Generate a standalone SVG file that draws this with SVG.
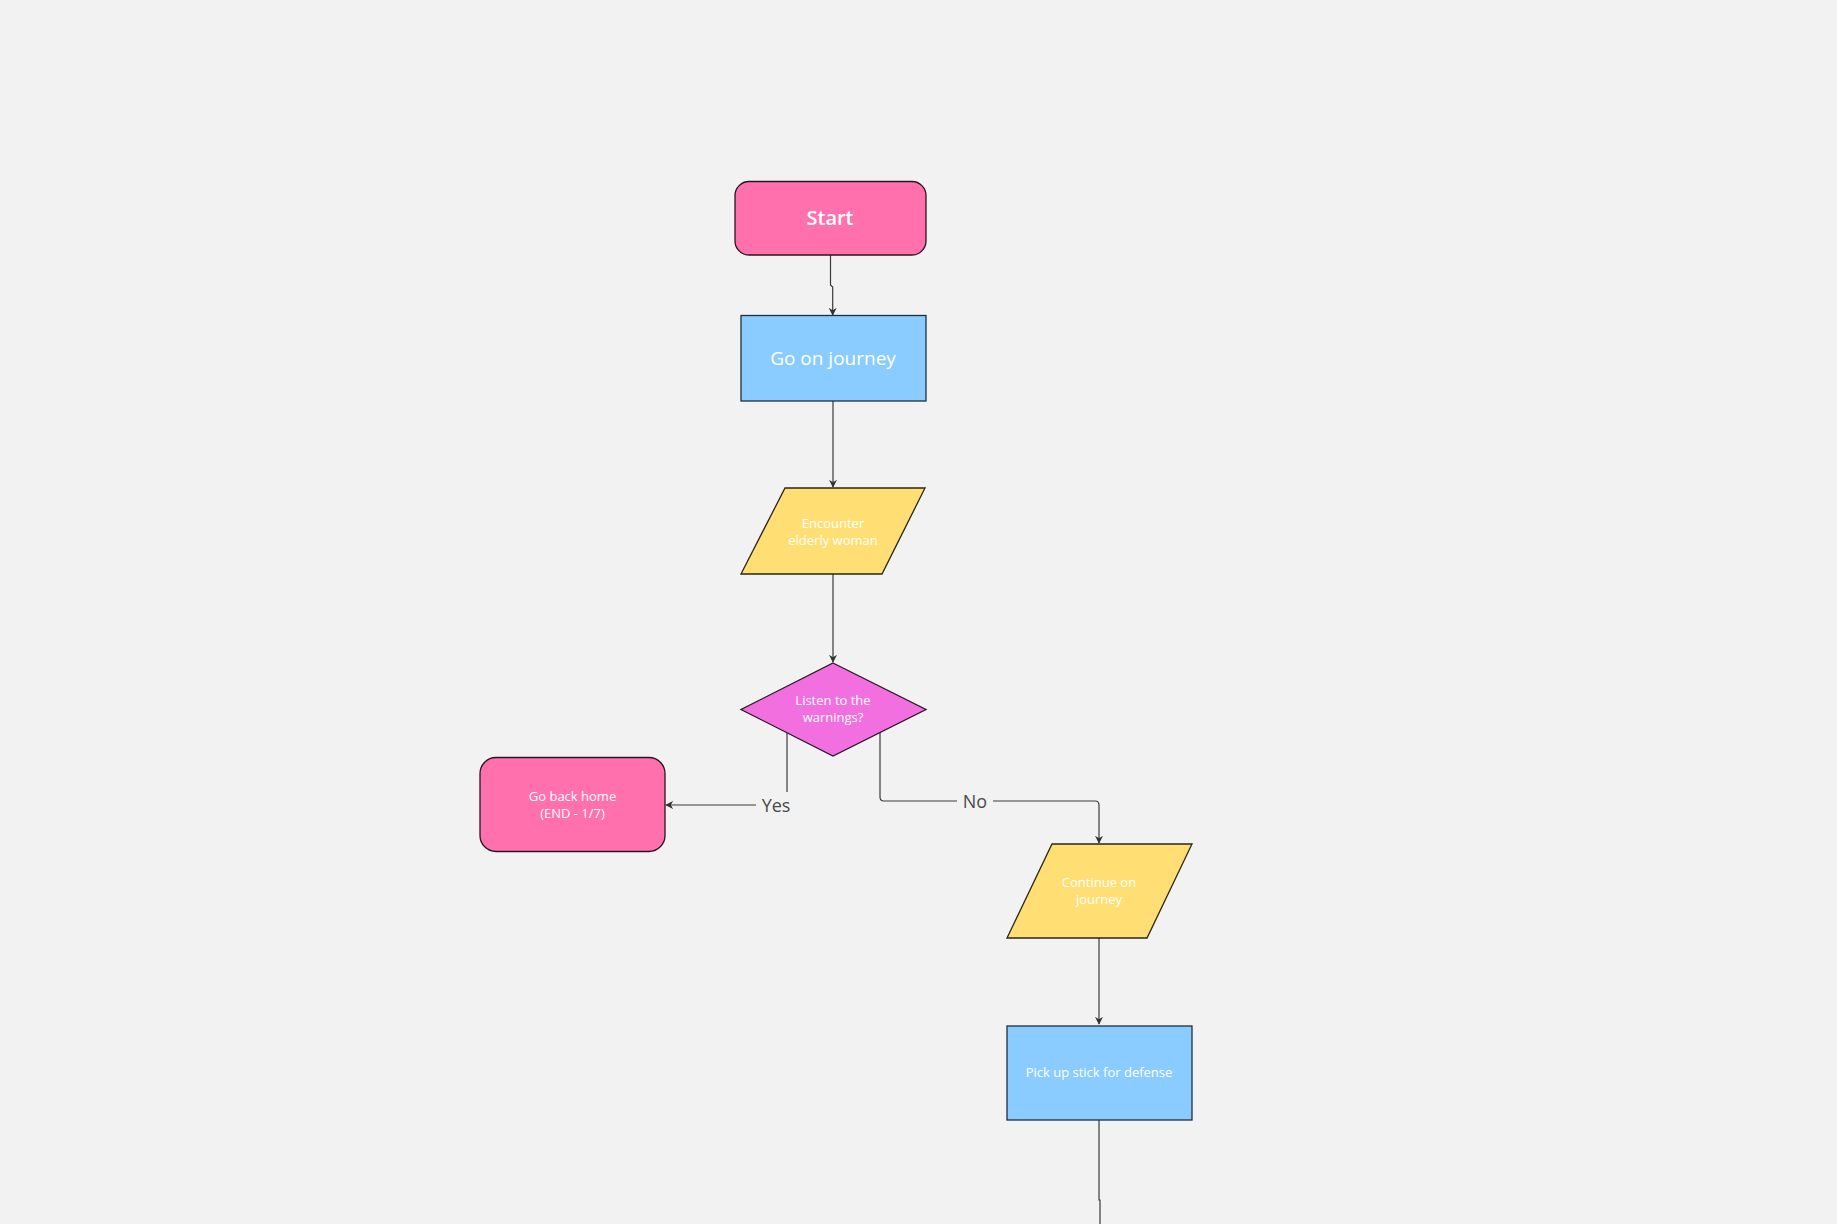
<svg xmlns="http://www.w3.org/2000/svg" width="1837" height="1224" viewBox="0 0 1837 1224">
  <defs>
    <marker id="arrow" viewBox="0 0 10 10" refX="9" refY="5" markerWidth="8" markerHeight="8" markerUnits="userSpaceOnUse" orient="auto">
      <path d="M0,0 L10,5 L0,10 L3,5 Z" fill="#333"/>
    </marker>
    <style>
      .term { fill: #FF70AC; stroke: #2a1420; stroke-width: 1.3; }
      .proc { fill: #8ACCFF; stroke: #1f2f40; stroke-width: 1.3; }
      .io { fill: #FFDF73; stroke: #2b2616; stroke-width: 1.3; }
      .dec { fill: #F26FE0; stroke: #2b1628; stroke-width: 1.3; }
      .lbl { font-family: "Open Sans", "Noto Sans", sans-serif; fill: #ffffff; text-anchor: middle; }
      .big { font-size: 20px; font-weight: 600; }
      .small { font-size: 13px; }
      .edge { fill: none; stroke: #3a3a3a; stroke-width: 1.2; }
      .elbl { font-family: "Open Sans", "Noto Sans", sans-serif; font-size: 18px; fill: #4a4a4a; text-anchor: middle; }
    </style>
  </defs>

  <rect width="1837" height="1224" fill="#F2F2F2"/>

  <g id="connectors">
    <path class="edge" d="M830.5,255 V285 L832.7,287 V315" marker-end="url(#arrow)"/>
    <path class="edge" d="M833,401 V487" marker-end="url(#arrow)"/>
    <path class="edge" d="M833,574 V662" marker-end="url(#arrow)"/>
    <path class="edge" d="M787,733 V805 H666" marker-end="url(#arrow)"/>
    <path class="edge" d="M880,733 V797 Q880,801 884,801 H1095 Q1099,801 1099,805 V843" marker-end="url(#arrow)"/>
    <path class="edge" d="M1099,938 V1024" marker-end="url(#arrow)"/>
    <path class="edge" d="M1099,1120 V1200 H1100 V1224"/>
    <g id="label-yes">
      <rect x="756" y="792" width="41" height="26" fill="#F2F2F2"/>
      <text class="elbl" x="776" y="812">Yes</text>
    </g>
    <g id="label-no">
      <rect x="957" y="789" width="36" height="24" fill="#F2F2F2"/>
      <text class="elbl" x="975" y="808">No</text>
    </g>
  </g>

  <g id="start">
    <rect class="term" x="735" y="181.5" width="191" height="73.5" rx="14"/>
    <text class="lbl big" x="830" y="225">Start</text>
  </g>

  <g id="go-on-journey">
    <rect class="proc" x="741" y="315.5" width="185" height="85.5"/>
    <text class="lbl big" x="833" y="365" style="font-weight:500;font-size:19px">Go on journey</text>
  </g>

  <g id="encounter">
    <polygon class="io" points="785,488 925,488 882,574 741,574"/>
    <text class="lbl small" x="833" y="528">Encounter</text>
    <text class="lbl small" x="833" y="545">elderly woman</text>
  </g>

  <g id="listen">
    <polygon class="dec" points="833,663 926,709.5 833,756 741,709.5"/>
    <text class="lbl small" x="833" y="705">Listen to the</text>
    <text class="lbl small" x="833" y="722">warnings?</text>
  </g>

  <g id="go-back-home">
    <rect class="term" x="480" y="757.5" width="185" height="94" rx="16"/>
    <text class="lbl small" x="572.5" y="801">Go back home</text>
    <text class="lbl small" x="572.5" y="818">(END - 1/7)</text>
  </g>

  <g id="continue">
    <polygon class="io" points="1052,844 1192,844 1147,938 1007,938"/>
    <text class="lbl small" x="1099" y="887">Continue on</text>
    <text class="lbl small" x="1099" y="904">journey</text>
  </g>

  <g id="pick-up-stick">
    <rect class="proc" x="1007" y="1026" width="185" height="94"/>
    <text class="lbl small" x="1099" y="1077">Pick up stick for defense</text>
  </g>
</svg>
